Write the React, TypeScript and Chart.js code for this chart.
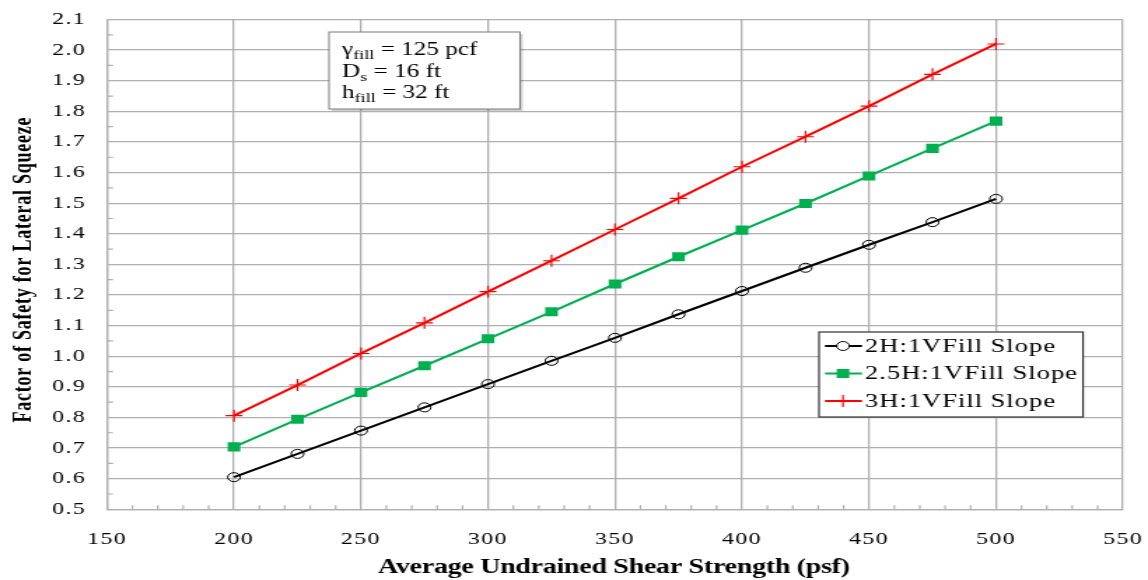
import React, { useEffect, useRef } from 'react';
import { Chart, registerables } from 'chart.js';

Chart.register(...registerables);

// ---------- data ----------
const xValues = [200, 225, 250, 275, 300, 325, 350, 375, 400, 425, 450, 475, 500];
const fs2H = [0.605, 0.681, 0.757, 0.833, 0.909, 0.985, 1.06, 1.137, 1.213, 1.289, 1.364, 1.438, 1.514];
const fs25H = [0.704, 0.794, 0.882, 0.969, 1.057, 1.145, 1.236, 1.325, 1.412, 1.499, 1.589, 1.679, 1.768];
const fs3H = [0.806, 0.906, 1.009, 1.109, 1.211, 1.312, 1.414, 1.516, 1.619, 1.717, 1.817, 1.921, 2.02];
const seriesNames = ['2H:1VFill Slope', '2.5H:1VFill Slope', '3H:1VFill Slope'];
const xTickValues = [150, 200, 250, 300, 350, 400, 450, 500, 550];
const yTickValues = [0.5, 0.6, 0.7, 0.8, 0.9, 1.0, 1.1, 1.2, 1.3, 1.4, 1.5, 1.6, 1.7, 1.8, 1.9, 2.0, 2.1];
const xAxisTitle = 'Average Undrained Shear Strength (psf)';
const yAxisTitle = 'Factor of Safety for Lateral Squeeze';
const noteSymbols = ['γ', 'D', 'h'];
const noteSubscripts = ['fill', 's', 'fill'];
const noteValues = [' = 125 pcf', ' = 16 ft', ' = 32 ft'];

// ---------- layout / style ----------
const STRETCH = 1.4; // reference is horizontally stretched
const OUT_W = 1148;
const OUT_H = 580;
const W = Math.round(OUT_W / STRETCH);
const H = OUT_H;
const X = (real: number) => real / STRETCH;
const SERIF = '"Liberation Serif", "Times New Roman", serif';
const gridColor = '#b0b0b0';
const colors = ['#000000', '#00b050', '#ff0000'];
const markerStyles = ['circle', 'rect', 'cross'];

function drawMarker(ctx: CanvasRenderingContext2D, style: string, x: number, y: number, color: string) {
  ctx.save();
  if (style === 'circle') {
    ctx.beginPath();
    ctx.arc(x, y, 4.5, 0, Math.PI * 2);
    ctx.fillStyle = '#ffffff';
    ctx.fill();
    ctx.lineWidth = 1;
    ctx.strokeStyle = color;
    ctx.stroke();
  } else if (style === 'rect') {
    const s = 4.5;
    ctx.fillStyle = color;
    ctx.fillRect(x - s, y - s, 2 * s, 2 * s);
  } else {
    ctx.beginPath();
    ctx.moveTo(x - 6, y);
    ctx.lineTo(x + 6, y);
    ctx.moveTo(x, y - 6);
    ctx.lineTo(x, y + 6);
    ctx.lineWidth = 1.2;
    ctx.strokeStyle = color;
    ctx.stroke();
  }
  ctx.restore();
}

function fitText(ctx: CanvasRenderingContext2D, text: string, cx: number, y: number, target: number) {
  (ctx as any).letterSpacing = '0px';
  const w = ctx.measureText(text).width;
  const sp = (target - w) / Math.max(1, text.length - 1);
  (ctx as any).letterSpacing = sp + 'px';
  ctx.textAlign = 'left';
  ctx.fillText(text, cx - target / 2, y);
  (ctx as any).letterSpacing = '0px';
}

const decorPlugin = {
  id: 'decor',
  beforeDraw(chart: any) {
    const ctx = chart.ctx as CanvasRenderingContext2D;
    ctx.fillStyle = '#ffffff';
    ctx.fillRect(0, 0, chart.width, chart.height);
    (ctx as any).letterSpacing = '1px';
  },
  beforeDatasetsDraw(chart: any) {
    const ctx = chart.ctx as CanvasRenderingContext2D;
    const a = chart.chartArea;
    const xs = chart.scales.x;
    const ys = chart.scales.y;
    ctx.save();
    ctx.strokeStyle = gridColor;
    ctx.lineWidth = 1.2;
    ctx.beginPath();
    for (let v = 160; v < 550; v += 10) {
      if (v % 50 === 0) continue;
      const px = xs.getPixelForValue(v);
      ctx.moveTo(px, a.bottom);
      ctx.lineTo(px, a.bottom - 4);
    }
    for (let k = 0; k < yTickValues.length - 1; k++) {
      const v = (yTickValues[k] + yTickValues[k + 1]) / 2;
      const py = ys.getPixelForValue(v);
      ctx.moveTo(a.left, py);
      ctx.lineTo(a.left + 4.3, py);
    }
    ctx.stroke();
    ctx.restore();
  },
  afterDraw(chart: any) {
    const ctx = chart.ctx as CanvasRenderingContext2D;
    ctx.save();
    (ctx as any).letterSpacing = '0px';
    ctx.fillStyle = '#000';
    ctx.textBaseline = 'middle';

    // y-axis title
    ctx.save();
    ctx.translate(X(24), 270);
    ctx.rotate(-Math.PI / 2);
    ctx.font = `bold 18px ${SERIF}`;
    fitText(ctx, yAxisTitle, 0, 0, 305);
    ctx.restore();

    // x-axis title
    ctx.font = `bold 20px ${SERIF}`;
    fitText(ctx, xAxisTitle, X(614), 568, X(472));

    // annotation box
    const bx = X(329), by = 32, bw = X(520) - X(329), bh = 77;
    ctx.fillStyle = 'rgba(0,0,0,0.18)';
    ctx.fillRect(bx + 2, by + 2, bw, bh);
    ctx.fillStyle = '#ffffff';
    ctx.fillRect(bx, by, bw, bh);
    ctx.strokeStyle = '#7a7a7a';
    ctx.lineWidth = 1;
    ctx.strokeRect(bx, by, bw, bh);
    ctx.fillStyle = '#000';
    ctx.textBaseline = 'alphabetic';
    ctx.textAlign = 'left';
    const baselines = [55, 77, 98];
    for (let i = 0; i < noteSymbols.length; i++) {
      let x = X(342);
      const y = baselines[i];
      ctx.font = `18px ${SERIF}`;
      ctx.fillText(noteSymbols[i], x, y);
      x += ctx.measureText(noteSymbols[i]).width;
      ctx.font = `13px ${SERIF}`;
      ctx.fillText(noteSubscripts[i], x, y + 4);
      x += ctx.measureText(noteSubscripts[i]).width;
      ctx.font = `18px ${SERIF}`;
      ctx.fillText(noteValues[i], x, y);
    }

    // legend
    const lx = X(819), ly = 332, lw = X(1083) - X(819), lh = 85;
    ctx.fillStyle = '#ffffff';
    ctx.fillRect(lx, ly, lw, lh);
    ctx.strokeStyle = '#333333';
    ctx.lineWidth = 1.2;
    ctx.strokeRect(lx, ly, lw, lh);
    const rows = [346, 373.5, 401];
    ctx.textBaseline = 'middle';
    for (let i = 0; i < seriesNames.length; i++) {
      const y = rows[i];
      ctx.strokeStyle = colors[i];
      ctx.lineWidth = 2;
      ctx.beginPath();
      ctx.moveTo(X(825), y);
      ctx.lineTo(X(862), y);
      ctx.stroke();
      drawMarker(ctx, markerStyles[i], X(843), y, colors[i]);
      ctx.fillStyle = '#000';
      ctx.font = `19px ${SERIF}`;
      (ctx as any).letterSpacing = '0px';
      const w = ctx.measureText(seriesNames[i]).width;
      const target = X(i === 1 ? 212 : 190);
      const sp = (target - w) / (seriesNames[i].length - 1);
      (ctx as any).letterSpacing = sp + 'px';
      ctx.textAlign = 'left';
      ctx.fillText(seriesNames[i], X(865), y + 1);
      (ctx as any).letterSpacing = '0px';
    }
    ctx.restore();
  },
};

export default function App() {
  const canvasRef = useRef<HTMLCanvasElement | null>(null);

  useEffect(() => {
    const canvas = canvasRef.current;
    if (!canvas) return;
    const seriesData = [fs2H, fs25H, fs3H];
    const datasets = seriesData.map((arr, i) => ({
      label: seriesNames[i],
      data: xValues.map((x, j) => ({ x, y: arr[j] })),
      borderColor: colors[i],
      backgroundColor: colors[i],
      borderWidth: 2.1,
      pointStyle: markerStyles[i],
      pointRadius: i === 0 ? 4.5 : i === 1 ? 6.4 : 6,
      pointBorderWidth: i === 0 ? 1 : i === 1 ? 0 : 1.2,
      pointBorderColor: colors[i],
      pointBackgroundColor: i === 0 ? 'rgba(255,255,255,0)' : colors[i],
      tension: 0,
      fill: false,
    }));

    const chart = new Chart(canvas, {
      type: 'line',
      data: { datasets },
      options: {
        animation: false,
        responsive: false,
        devicePixelRatio: 1,
        layout: { padding: { left: 0, right: W - X(1123), top: 19.5, bottom: 0 } },
        plugins: { legend: { display: false }, tooltip: { enabled: false } },
        scales: {
          x: {
            type: 'linear',
            min: 150,
            max: 550,
            afterBuildTicks: (s: any) => {
              s.ticks = xTickValues.map((v) => ({ value: v }));
            },
            afterFit: (s: any) => {
              s.height = 70.7;
              s.paddingLeft = 0;
              s.paddingRight = 0;
            },
            grid: { color: gridColor, lineWidth: 1.3, drawTicks: false },
            border: { color: gridColor, width: 1.3 },
            ticks: {
              color: '#000',
              padding: 20,
              maxRotation: 0,
              autoSkip: false,
              font: { family: SERIF, size: 17 },
              callback: (v: any) => String(v),
            },
          },
          y: {
            type: 'linear',
            min: 0.5,
            max: 2.1,
            afterBuildTicks: (s: any) => {
              s.ticks = yTickValues.map((v) => ({ value: v }));
            },
            afterFit: (s: any) => {
              s.width = X(107);
              s.paddingTop = 0;
              s.paddingBottom = 0;
            },
            grid: { color: gridColor, lineWidth: 1.3, drawTicks: false },
            border: { color: gridColor, width: 1.3 },
            ticks: {
              color: '#000',
              padding: 15,
              autoSkip: false,
              font: { family: SERIF, size: 17 },
              callback: (v: any) => Number(v).toFixed(1),
            },
          },
        },
      } as any,
      plugins: [decorPlugin],
    });
    return () => chart.destroy();
  }, []);

  return (
    <div style={{ position: 'absolute', left: 0, top: 0, width: OUT_W, height: OUT_H, background: '#fff' }}>
      <canvas
        ref={canvasRef}
        width={W}
        height={H}
        style={{ width: OUT_W + 'px', height: OUT_H + 'px', display: 'block' }}
      />
    </div>
  );
}
